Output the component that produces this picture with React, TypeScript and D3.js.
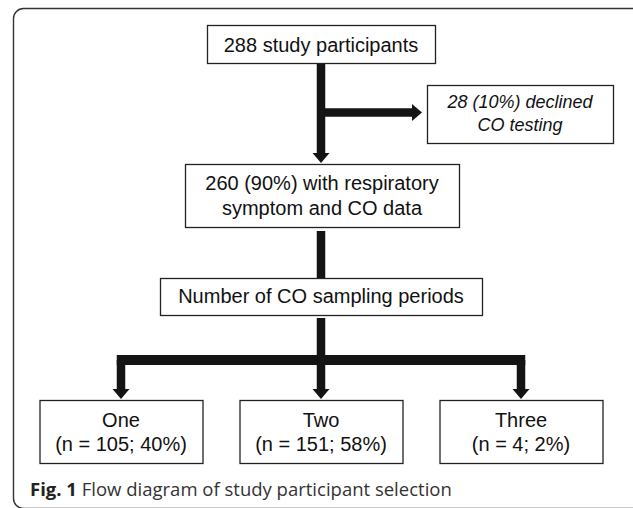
import React from "react";
import * as d3 from "d3";

// ---- data ----
const totalParticipants = 288;
const declinedCount = 28;
const declinedPct = 10;
const withDataCount = 260;
const withDataPct = 90;
const periodCategories = ["One", "Two", "Three"];
const periodCounts = [105, 151, 4];
const periodPcts = [40, 58, 2];
const captionBold = "Fig. 1";
const captionText = "Flow diagram of study participant selection";

// ---- layout ----
const W = 633;
const H = 508;
const SPINE = 321;
const SHAFT = 8.5;
const HEAD_W = 17;
const HEAD_L = 10;
const BOX_FONT = "'Liberation Sans', Arial, sans-serif";
const INK = "#141414";

type Box = { x0: number; x1: number; y0: number; y1: number; lines: string[]; baselines: number[]; italic?: boolean; size: number };

const boxes: Box[] = [
  { x0: 207, x1: 435, y0: 25, y1: 63, lines: [`${totalParticipants} study participants`], baselines: [51.5], size: 20 },
  { x0: 427, x1: 613, y0: 85, y1: 143, lines: [`${declinedCount} (${declinedPct}%) declined`, "CO testing"], baselines: [108, 131], italic: true, size: 18 },
  { x0: 185, x1: 459, y0: 164, y1: 227, lines: [`${withDataCount} (${withDataPct}%) with respiratory`, "symptom and CO data"], baselines: [189.5, 214.5], size: 20 },
  { x0: 160, x1: 482, y0: 278, y1: 315, lines: ["Number of CO sampling periods"], baselines: [303], size: 20 },
];

const xBranch = d3.scalePoint<string>().domain(periodCategories).range([121, 521]);
const bottomHalfWidth = 81.5;
const bottomY0 = 400;
const bottomY1 = 463;

function downArrow(x: number, y0: number, yTip: number): string {
  const p = d3.path();
  const yh = yTip - HEAD_L;
  p.moveTo(x - SHAFT / 2, y0);
  p.lineTo(x + SHAFT / 2, y0);
  p.lineTo(x + SHAFT / 2, yh);
  p.lineTo(x + HEAD_W / 2, yh);
  p.lineTo(x, yTip);
  p.lineTo(x - HEAD_W / 2, yh);
  p.lineTo(x - SHAFT / 2, yh);
  p.closePath();
  return p.toString();
}

function rightArrow(x0: number, y: number, xTip: number): string {
  const p = d3.path();
  const xh = xTip - HEAD_L;
  p.moveTo(x0, y - SHAFT / 2);
  p.lineTo(xh, y - SHAFT / 2);
  p.lineTo(xh, y - HEAD_W / 2);
  p.lineTo(xTip, y);
  p.lineTo(xh, y + HEAD_W / 2);
  p.lineTo(xh, y + SHAFT / 2);
  p.lineTo(x0, y + SHAFT / 2);
  p.closePath();
  return p.toString();
}

export default function App() {
  const branchY = 360;
  const xs = periodCategories.map((c) => xBranch(c) as number);
  const bottomBoxes = periodCategories.map((c, i) => ({
    cx: xs[i],
    lines: [c, `(n = ${periodCounts[i]}; ${periodPcts[i]}%)`],
  }));

  return (
    <svg
      width={W}
      height={H}
      viewBox={`0 0 ${W} ${H}`}
      style={{ position: "absolute", left: 0, top: 0, background: "#fff" }}
    >
      <rect x={13.5} y={8.5} width={640} height={500} rx={10} ry={10} fill="#fff" stroke="#333" strokeWidth={1.4} />

      {/* connectors */}
      <g fill={INK}>
        <path d={downArrow(SPINE, 63, 163)} />
        <path d={rightArrow(SPINE, 112.5, 422)} />
        <rect x={SPINE - SHAFT / 2} y={231} width={SHAFT} height={47} />
        <rect x={SPINE - SHAFT / 2} y={318} width={SHAFT} height={branchY - 318} />
        <rect x={xs[0] - SHAFT / 2} y={branchY - 5} width={xs[2] - xs[0] + SHAFT} height={10} />
        {xs.map((x, i) => (
          <path key={i} d={downArrow(x, branchY, bottomY0 - 1)} />
        ))}
      </g>

      {/* boxes */}
      {boxes.map((b, i) => (
        <g key={i}>
          <rect x={b.x0 + 0.5} y={b.y0 + 0.5} width={b.x1 - b.x0} height={b.y1 - b.y0} fill="#fff" stroke="#222" strokeWidth={1.3} />
          {b.lines.map((t, j) => (
            <text
              key={j}
              x={(b.x0 + b.x1) / 2}
              y={b.baselines[j]}
              textAnchor="middle"
              fontFamily={BOX_FONT}
              fontSize={b.size}
              fontStyle={b.italic ? "italic" : "normal"}
              fill="#111"
            >
              {t}
            </text>
          ))}
        </g>
      ))}

      {bottomBoxes.map((b, i) => (
        <g key={`b${i}`}>
          <rect
            x={b.cx - bottomHalfWidth + 0.5}
            y={bottomY0 + 0.5}
            width={bottomHalfWidth * 2}
            height={bottomY1 - bottomY0}
            fill="#fff"
            stroke="#222"
            strokeWidth={1.3}
          />
          <text x={b.cx} y={427} textAnchor="middle" fontFamily={BOX_FONT} fontSize={20} fill="#111">
            {b.lines[0]}
          </text>
          <text x={b.cx} y={451} textAnchor="middle" fontFamily={BOX_FONT} fontSize={20} fill="#111">
            {b.lines[1]}
          </text>
        </g>
      ))}

      <text x={30} y={496} fontFamily="'Open Sans', 'Noto Sans', sans-serif" fontSize={18.5} fill="#333">
        <tspan fontWeight="bold" fill="#222">{captionBold}</tspan>
        <tspan> {captionText}</tspan>
      </text>
    </svg>
  );
}
